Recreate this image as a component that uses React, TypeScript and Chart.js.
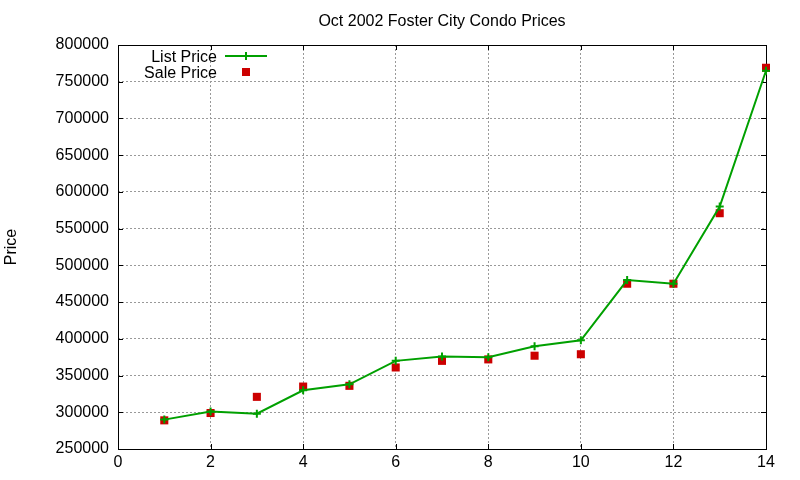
import { useEffect, useRef } from "react"
import { Chart, registerables } from "chart.js"
import type { Plugin } from "chart.js"

Chart.register(...registerables)

const units = [1, 2, 3, 4, 5, 6, 7, 8, 9, 10, 11, 12, 13, 14]
const listPrices = [290000, 301000, 298000, 330000, 338000, 370000, 376000, 375000, 390000, 398000, 480000, 475000, 580000, 765000]
const salePrices = [289000, 299000, 321000, 335000, 336000, 361000, 370000, 372000, 377000, 379000, 475000, 475000, 571000, 769000]

const chartTitle = "Oct 2002 Foster City Condo Prices"
const yTitle = "Price"
const seriesNames = ["List Price", "Sale Price"]

const GREEN = "#00a000"
const RED = "#cc0000"
const GRID = "#999999"
const FONT = "'Liberation Sans', Arial, sans-serif"

// gnuplot style frame with inward ticks, title over the plot area, key in the top left
const gnuplotPlugin: Plugin<"line"> = {
  id: "gnuplotFrame",
  beforeDatasetsDraw(chart) {
    const { ctx, chartArea: a, scales } = chart
    const tick = 5
    ctx.save()
    ctx.strokeStyle = "#000"
    ctx.lineWidth = 1
    ctx.beginPath()
    scales.x.ticks.forEach((t) => {
      const px = Math.round(scales.x.getPixelForValue(t.value)) + 0.5
      ctx.moveTo(px, a.bottom)
      ctx.lineTo(px, a.bottom - tick)
      ctx.moveTo(px, a.top)
      ctx.lineTo(px, a.top + tick)
    })
    scales.y.ticks.forEach((t) => {
      const py = Math.round(scales.y.getPixelForValue(t.value)) + 0.5
      ctx.moveTo(a.left, py)
      ctx.lineTo(a.left + tick, py)
      ctx.moveTo(a.right, py)
      ctx.lineTo(a.right - tick, py)
    })
    ctx.stroke()
    ctx.strokeRect(Math.round(a.left) + 0.5, Math.round(a.top) + 0.5, Math.round(a.right - a.left), Math.round(a.bottom - a.top))

    ctx.font = `16px ${FONT}`
    ctx.fillStyle = "#000"
    ctx.textAlign = "center"
    ctx.textBaseline = "alphabetic"
    ctx.fillText(chartTitle, (a.left + a.right) / 2, 26)
    ctx.restore()
  },
  afterDatasetsDraw(chart) {
    const { ctx } = chart
    const textRight = 217
    const sampleLeft = 225
    const sampleRight = 267
    const sampleMid = 246
    const rows = [56, 72]
    ctx.save()
    ctx.font = `16px ${FONT}`
    ctx.fillStyle = "#000"
    ctx.textAlign = "right"
    ctx.textBaseline = "alphabetic"
    seriesNames.forEach((name, i) => ctx.fillText(name, textRight, rows[i] + 5.5))

    ctx.strokeStyle = GREEN
    ctx.lineWidth = 2
    ctx.beginPath()
    ctx.moveTo(sampleLeft, rows[0])
    ctx.lineTo(sampleRight, rows[0])
    ctx.moveTo(sampleMid, rows[0] - 4)
    ctx.lineTo(sampleMid, rows[0] + 4)
    ctx.stroke()

    ctx.fillStyle = RED
    ctx.fillRect(sampleMid - 4, rows[1] - 4, 8, 8)
    ctx.restore()
  },
}

export default function App() {
  const canvasRef = useRef<HTMLCanvasElement>(null)

  useEffect(() => {
    document.body.style.margin = "0"
    if (!canvasRef.current) return

    const chart = new Chart(canvasRef.current, {
      type: "line",
      data: {
        datasets: [
          {
            label: seriesNames[0],
            data: units.map((u, i) => ({ x: u, y: listPrices[i] })),
            borderColor: GREEN,
            backgroundColor: GREEN,
            borderWidth: 2,
            pointStyle: "cross",
            pointRadius: 4,
            pointBorderWidth: 2,
            tension: 0,
            clip: false,
          },
          {
            label: seriesNames[1],
            data: units.map((u, i) => ({ x: u, y: salePrices[i] })),
            showLine: false,
            borderColor: RED,
            backgroundColor: RED,
            pointStyle: "rect",
            pointRadius: 5.7,
            pointBorderWidth: 0,
            clip: false,
          },
        ],
      },
      options: {
        responsive: false,
        animation: false,
        events: [],
        layout: { padding: { left: 0, right: 34, top: 45, bottom: 0 } },
        plugins: {
          legend: { display: false },
          tooltip: { enabled: false },
          title: { display: false },
        },
        scales: {
          x: {
            type: "linear",
            min: 0,
            max: 14,
            ticks: {
              stepSize: 2,
              color: "#000",
              padding: 4,
              font: { family: FONT, size: 16 },
            },
            grid: { color: GRID, drawTicks: false },
            border: { display: false, dash: [2, 2] },
            afterFit: (scale) => {
              scale.height = 31
            },
          },
          y: {
            type: "linear",
            min: 250000,
            max: 800000,
            ticks: {
              stepSize: 50000,
              color: "#000",
              padding: 9,
              font: { family: FONT, size: 16 },
              callback: (v) => String(v),
            },
            title: {
              display: true,
              text: yTitle,
              color: "#000",
              font: { family: FONT, size: 16 },
              padding: { top: 2, bottom: 0 },
            },
            grid: { color: GRID, drawTicks: false },
            border: { display: false, dash: [2, 2] },
            afterFit: (scale) => {
              scale.width = 118
            },
          },
        },
      },
      plugins: [gnuplotPlugin],
    })

    return () => chart.destroy()
  }, [])

  return <canvas ref={canvasRef} width={800} height={480} />
}
